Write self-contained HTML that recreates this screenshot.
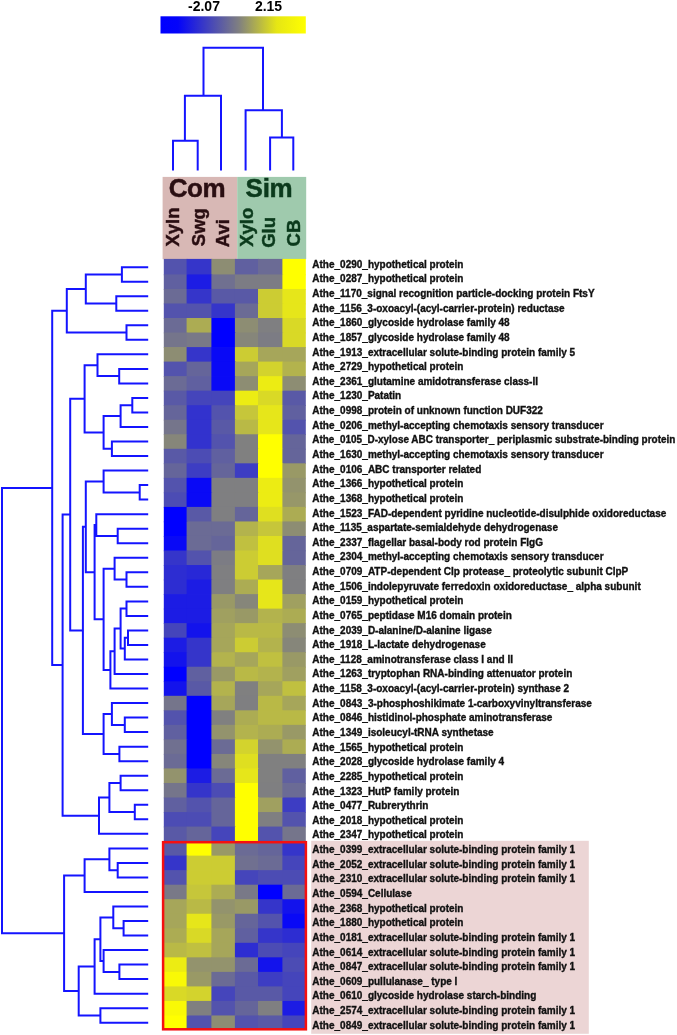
<!DOCTYPE html>
<html><head><meta charset="utf-8"><style>
html,body{margin:0;padding:0;background:#fff;width:677px;height:1035px;overflow:hidden}
svg{position:absolute;left:0;top:0;display:block}
.lb{font-family:"Liberation Sans",Arial,sans-serif;font-weight:bold;font-size:10px;fill:#111;stroke:#111;stroke-width:0.35px}
.hd{font-family:"Liberation Sans",Arial,sans-serif;font-weight:bold}
</style></head><body>
<svg width="677" height="1035" viewBox="0 0 677 1035">
<defs><linearGradient id="cb" x1="0" x2="1" y1="0" y2="0">
<stop offset="0" stop-color="#0000ff"/><stop offset="0.12" stop-color="#0404fa"/><stop offset="0.54" stop-color="#808080"/><stop offset="0.8" stop-color="#e6e614"/><stop offset="1" stop-color="#ffff00"/></linearGradient></defs>
<text class="hd" x="204" y="11.3" text-anchor="middle" font-size="14" fill="#000">-2.07</text>
<text class="hd" x="268.5" y="11.3" text-anchor="middle" font-size="14" fill="#000">2.15</text>
<rect x="160.5" y="16.3" width="145.3" height="17.2" fill="url(#cb)"/>
<path d="M173.0 170.5V140.8H197.7V170.5M221.0 170.5V95.8H184.9V140.8M270.1 170.5V137.5H293.3V170.5M245.6 170.5V110.2H281.9V137.5M203.5 95.8V47.8H263.0V110.2" stroke="#1414ff" stroke-width="2" fill="none"/>
<rect x="162.6" y="176.9" width="74.6" height="82.3" fill="#d8b8b5"/>
<rect x="237.2" y="176.9" width="69" height="82.3" fill="#9fcaad"/>
<text class="hd" x="168.8" y="196.8" font-size="26" letter-spacing="-0.5" fill="#2a0e12" stroke="#2a0e12" stroke-width="0.5">Com</text>
<text class="hd" x="245.6" y="196.8" font-size="26" letter-spacing="-0.3" fill="#0b3a1c" stroke="#0b3a1c" stroke-width="0.5">Sim</text>
<g font-size="18.5" class="hd" stroke-width="0.45">
<text transform="translate(179.2 246.6) rotate(-90)" fill="#2a0e12" stroke="#2a0e12">Xyln</text>
<text transform="translate(204.5 246.2) rotate(-90)" fill="#2a0e12" stroke="#2a0e12">Swg</text>
<text transform="translate(228.8 247.2) rotate(-90)" fill="#2a0e12" stroke="#2a0e12">Avi</text>
<text transform="translate(252.5 246.8) rotate(-90)" fill="#0b3a1c" stroke="#0b3a1c">Xylo</text>
<text transform="translate(274.6 247.8) rotate(-90)" fill="#0b3a1c" stroke="#0b3a1c">Glu</text>
<text transform="translate(299.8 246.4) rotate(-90)" fill="#0b3a1c" stroke="#0b3a1c">CB</text>
</g>
<rect x="163.8" y="258.90" width="23.60" height="16.33" fill="#5353ad"/><rect x="186.6" y="258.90" width="25.60" height="16.33" fill="#3535ca"/><rect x="211.4" y="258.90" width="24.30" height="16.33" fill="#8d8d73"/><rect x="234.9" y="258.90" width="23.90" height="16.33" fill="#6060a0"/><rect x="258.0" y="258.90" width="25.20" height="16.33" fill="#6b6b95"/><rect x="282.4" y="258.90" width="23.40" height="16.33" fill="#ffff00"/><rect x="163.8" y="274.43" width="23.60" height="15.33" fill="#6060a0"/><rect x="186.6" y="274.43" width="25.60" height="15.33" fill="#1c1ce4"/><rect x="211.4" y="274.43" width="24.30" height="15.33" fill="#707090"/><rect x="234.9" y="274.43" width="23.90" height="15.33" fill="#7c7c84"/><rect x="258.0" y="274.43" width="25.20" height="15.33" fill="#7c7c84"/><rect x="282.4" y="274.43" width="23.40" height="15.33" fill="#ffff00"/><rect x="163.8" y="288.96" width="23.60" height="15.33" fill="#6b6b95"/><rect x="186.6" y="288.96" width="25.60" height="15.33" fill="#3535ca"/><rect x="211.4" y="288.96" width="24.30" height="15.33" fill="#5959a6"/><rect x="234.9" y="288.96" width="23.90" height="15.33" fill="#5959a6"/><rect x="258.0" y="288.96" width="25.20" height="15.33" fill="#cccc33"/><rect x="282.4" y="288.96" width="23.40" height="15.33" fill="#e6e61a"/><rect x="163.8" y="303.49" width="23.60" height="15.33" fill="#5353ad"/><rect x="186.6" y="303.49" width="25.60" height="15.33" fill="#5353ad"/><rect x="211.4" y="303.49" width="24.30" height="15.33" fill="#3535ca"/><rect x="234.9" y="303.49" width="23.90" height="15.33" fill="#6b6b95"/><rect x="258.0" y="303.49" width="25.20" height="15.33" fill="#cccc33"/><rect x="282.4" y="303.49" width="23.40" height="15.33" fill="#e6e61a"/><rect x="163.8" y="318.02" width="23.60" height="15.33" fill="#6b6b95"/><rect x="186.6" y="318.02" width="25.60" height="15.33" fill="#acac53"/><rect x="211.4" y="318.02" width="24.30" height="15.33" fill="#0000ff"/><rect x="234.9" y="318.02" width="23.90" height="15.33" fill="#8d8d73"/><rect x="258.0" y="318.02" width="25.20" height="15.33" fill="#7f7f81"/><rect x="282.4" y="318.02" width="23.40" height="15.33" fill="#d9d926"/><rect x="163.8" y="332.55" width="23.60" height="15.33" fill="#75758b"/><rect x="186.6" y="332.55" width="25.60" height="15.33" fill="#797987"/><rect x="211.4" y="332.55" width="24.30" height="15.33" fill="#0000ff"/><rect x="234.9" y="332.55" width="23.90" height="15.33" fill="#86867a"/><rect x="258.0" y="332.55" width="25.20" height="15.33" fill="#7c7c84"/><rect x="282.4" y="332.55" width="23.40" height="15.33" fill="#d9d926"/><rect x="163.8" y="347.08" width="23.60" height="15.33" fill="#8d8d73"/><rect x="186.6" y="347.08" width="25.60" height="15.33" fill="#3535ca"/><rect x="211.4" y="347.08" width="24.30" height="15.33" fill="#0909f6"/><rect x="234.9" y="347.08" width="23.90" height="15.33" fill="#cccc33"/><rect x="258.0" y="347.08" width="25.20" height="15.33" fill="#a6a65a"/><rect x="282.4" y="347.08" width="23.40" height="15.33" fill="#a6a65a"/><rect x="163.8" y="361.61" width="23.60" height="15.33" fill="#5353ad"/><rect x="186.6" y="361.61" width="25.60" height="15.33" fill="#65659a"/><rect x="211.4" y="361.61" width="24.30" height="15.33" fill="#0909f6"/><rect x="234.9" y="361.61" width="23.90" height="15.33" fill="#a6a65a"/><rect x="258.0" y="361.61" width="25.20" height="15.33" fill="#d3d32d"/><rect x="282.4" y="361.61" width="23.40" height="15.33" fill="#b3b34d"/><rect x="163.8" y="376.14" width="23.60" height="15.33" fill="#6b6b95"/><rect x="186.6" y="376.14" width="25.60" height="15.33" fill="#6060a0"/><rect x="211.4" y="376.14" width="24.30" height="15.33" fill="#0909f6"/><rect x="234.9" y="376.14" width="23.90" height="15.33" fill="#8d8d73"/><rect x="258.0" y="376.14" width="25.20" height="15.33" fill="#ecec13"/><rect x="282.4" y="376.14" width="23.40" height="15.33" fill="#8d8d73"/><rect x="163.8" y="390.67" width="23.60" height="15.33" fill="#5959a6"/><rect x="186.6" y="390.67" width="25.60" height="15.33" fill="#4545bb"/><rect x="211.4" y="390.67" width="24.30" height="15.33" fill="#4545bb"/><rect x="234.9" y="390.67" width="23.90" height="15.33" fill="#ecec13"/><rect x="258.0" y="390.67" width="25.20" height="15.33" fill="#d9d926"/><rect x="282.4" y="390.67" width="23.40" height="15.33" fill="#5959a6"/><rect x="163.8" y="405.20" width="23.60" height="15.33" fill="#65659a"/><rect x="186.6" y="405.20" width="25.60" height="15.33" fill="#3232ce"/><rect x="211.4" y="405.20" width="24.30" height="15.33" fill="#5353ad"/><rect x="234.9" y="405.20" width="23.90" height="15.33" fill="#c6c63a"/><rect x="258.0" y="405.20" width="25.20" height="15.33" fill="#e6e61a"/><rect x="282.4" y="405.20" width="23.40" height="15.33" fill="#6060a0"/><rect x="163.8" y="419.73" width="23.60" height="15.33" fill="#75758b"/><rect x="186.6" y="419.73" width="25.60" height="15.33" fill="#3232ce"/><rect x="211.4" y="419.73" width="24.30" height="15.33" fill="#5959a6"/><rect x="234.9" y="419.73" width="23.90" height="15.33" fill="#b9b946"/><rect x="258.0" y="419.73" width="25.20" height="15.33" fill="#e6e61a"/><rect x="282.4" y="419.73" width="23.40" height="15.33" fill="#5353ad"/><rect x="163.8" y="434.26" width="23.60" height="15.33" fill="#86867a"/><rect x="186.6" y="434.26" width="25.60" height="15.33" fill="#3232ce"/><rect x="211.4" y="434.26" width="24.30" height="15.33" fill="#5353ad"/><rect x="234.9" y="434.26" width="23.90" height="15.33" fill="#808080"/><rect x="258.0" y="434.26" width="25.20" height="15.33" fill="#ffff00"/><rect x="282.4" y="434.26" width="23.40" height="15.33" fill="#65659a"/><rect x="163.8" y="448.79" width="23.60" height="15.33" fill="#5959a6"/><rect x="186.6" y="448.79" width="25.60" height="15.33" fill="#4c4cb4"/><rect x="211.4" y="448.79" width="24.30" height="15.33" fill="#6060a0"/><rect x="234.9" y="448.79" width="23.90" height="15.33" fill="#808080"/><rect x="258.0" y="448.79" width="25.20" height="15.33" fill="#ffff00"/><rect x="282.4" y="448.79" width="23.40" height="15.33" fill="#65659a"/><rect x="163.8" y="463.32" width="23.60" height="15.33" fill="#65659a"/><rect x="186.6" y="463.32" width="25.60" height="15.33" fill="#3d3dc3"/><rect x="211.4" y="463.32" width="24.30" height="15.33" fill="#65659a"/><rect x="234.9" y="463.32" width="23.90" height="15.33" fill="#3d3dc3"/><rect x="258.0" y="463.32" width="25.20" height="15.33" fill="#ffff00"/><rect x="282.4" y="463.32" width="23.40" height="15.33" fill="#999966"/><rect x="163.8" y="477.85" width="23.60" height="15.33" fill="#5353ad"/><rect x="186.6" y="477.85" width="25.60" height="15.33" fill="#0909f6"/><rect x="211.4" y="477.85" width="24.30" height="15.33" fill="#7f7f81"/><rect x="234.9" y="477.85" width="23.90" height="15.33" fill="#7f7f81"/><rect x="258.0" y="477.85" width="25.20" height="15.33" fill="#ecec13"/><rect x="282.4" y="477.85" width="23.40" height="15.33" fill="#93936d"/><rect x="163.8" y="492.38" width="23.60" height="15.33" fill="#4c4cb4"/><rect x="186.6" y="492.38" width="25.60" height="15.33" fill="#0909f6"/><rect x="211.4" y="492.38" width="24.30" height="15.33" fill="#7f7f81"/><rect x="234.9" y="492.38" width="23.90" height="15.33" fill="#7f7f81"/><rect x="258.0" y="492.38" width="25.20" height="15.33" fill="#ecec13"/><rect x="282.4" y="492.38" width="23.40" height="15.33" fill="#979769"/><rect x="163.8" y="506.91" width="23.60" height="15.33" fill="#0000ff"/><rect x="186.6" y="506.91" width="25.60" height="15.33" fill="#5959a6"/><rect x="211.4" y="506.91" width="24.30" height="15.33" fill="#7f7f81"/><rect x="234.9" y="506.91" width="23.90" height="15.33" fill="#65659a"/><rect x="258.0" y="506.91" width="25.20" height="15.33" fill="#dfdf20"/><rect x="282.4" y="506.91" width="23.40" height="15.33" fill="#acac53"/><rect x="163.8" y="521.44" width="23.60" height="15.33" fill="#0000ff"/><rect x="186.6" y="521.44" width="25.60" height="15.33" fill="#6b6b95"/><rect x="211.4" y="521.44" width="24.30" height="15.33" fill="#6b6b95"/><rect x="234.9" y="521.44" width="23.90" height="15.33" fill="#b3b34d"/><rect x="258.0" y="521.44" width="25.20" height="15.33" fill="#c6c63a"/><rect x="282.4" y="521.44" width="23.40" height="15.33" fill="#8d8d73"/><rect x="163.8" y="535.97" width="23.60" height="15.33" fill="#0909f6"/><rect x="186.6" y="535.97" width="25.60" height="15.33" fill="#6b6b95"/><rect x="211.4" y="535.97" width="24.30" height="15.33" fill="#65659a"/><rect x="234.9" y="535.97" width="23.90" height="15.33" fill="#c0c040"/><rect x="258.0" y="535.97" width="25.20" height="15.33" fill="#dfdf20"/><rect x="282.4" y="535.97" width="23.40" height="15.33" fill="#65659a"/><rect x="163.8" y="550.50" width="23.60" height="15.33" fill="#3535ca"/><rect x="186.6" y="550.50" width="25.60" height="15.33" fill="#5353ad"/><rect x="211.4" y="550.50" width="24.30" height="15.33" fill="#7c7c84"/><rect x="234.9" y="550.50" width="23.90" height="15.33" fill="#cccc33"/><rect x="258.0" y="550.50" width="25.20" height="15.33" fill="#dfdf20"/><rect x="282.4" y="550.50" width="23.40" height="15.33" fill="#65659a"/><rect x="163.8" y="565.03" width="23.60" height="15.33" fill="#2d2dd2"/><rect x="186.6" y="565.03" width="25.60" height="15.33" fill="#2828d7"/><rect x="211.4" y="565.03" width="24.30" height="15.33" fill="#7f7f81"/><rect x="234.9" y="565.03" width="23.90" height="15.33" fill="#cccc33"/><rect x="258.0" y="565.03" width="25.20" height="15.33" fill="#a6a65a"/><rect x="282.4" y="565.03" width="23.40" height="15.33" fill="#7f7f81"/><rect x="163.8" y="579.56" width="23.60" height="15.33" fill="#2d2dd2"/><rect x="186.6" y="579.56" width="25.60" height="15.33" fill="#1c1ce4"/><rect x="211.4" y="579.56" width="24.30" height="15.33" fill="#7f7f81"/><rect x="234.9" y="579.56" width="23.90" height="15.33" fill="#acac53"/><rect x="258.0" y="579.56" width="25.20" height="15.33" fill="#e6e61a"/><rect x="282.4" y="579.56" width="23.40" height="15.33" fill="#7f7f81"/><rect x="163.8" y="594.09" width="23.60" height="15.33" fill="#1c1ce4"/><rect x="186.6" y="594.09" width="25.60" height="15.33" fill="#1c1ce4"/><rect x="211.4" y="594.09" width="24.30" height="15.33" fill="#999966"/><rect x="234.9" y="594.09" width="23.90" height="15.33" fill="#86867a"/><rect x="258.0" y="594.09" width="25.20" height="15.33" fill="#e6e61a"/><rect x="282.4" y="594.09" width="23.40" height="15.33" fill="#a0a060"/><rect x="163.8" y="608.62" width="23.60" height="15.33" fill="#1c1ce4"/><rect x="186.6" y="608.62" width="25.60" height="15.33" fill="#1c1ce4"/><rect x="211.4" y="608.62" width="24.30" height="15.33" fill="#a0a060"/><rect x="234.9" y="608.62" width="23.90" height="15.33" fill="#999966"/><rect x="258.0" y="608.62" width="25.20" height="15.33" fill="#b3b34d"/><rect x="282.4" y="608.62" width="23.40" height="15.33" fill="#acac53"/><rect x="163.8" y="623.15" width="23.60" height="15.33" fill="#4545bb"/><rect x="186.6" y="623.15" width="25.60" height="15.33" fill="#1313ec"/><rect x="211.4" y="623.15" width="24.30" height="15.33" fill="#a6a65a"/><rect x="234.9" y="623.15" width="23.90" height="15.33" fill="#b9b946"/><rect x="258.0" y="623.15" width="25.20" height="15.33" fill="#b9b946"/><rect x="282.4" y="623.15" width="23.40" height="15.33" fill="#8d8d73"/><rect x="163.8" y="637.68" width="23.60" height="15.33" fill="#1c1ce4"/><rect x="186.6" y="637.68" width="25.60" height="15.33" fill="#3535ca"/><rect x="211.4" y="637.68" width="24.30" height="15.33" fill="#a6a65a"/><rect x="234.9" y="637.68" width="23.90" height="15.33" fill="#cccc33"/><rect x="258.0" y="637.68" width="25.20" height="15.33" fill="#b3b34d"/><rect x="282.4" y="637.68" width="23.40" height="15.33" fill="#86867a"/><rect x="163.8" y="652.21" width="23.60" height="15.33" fill="#1313ec"/><rect x="186.6" y="652.21" width="25.60" height="15.33" fill="#3535ca"/><rect x="211.4" y="652.21" width="24.30" height="15.33" fill="#b3b34d"/><rect x="234.9" y="652.21" width="23.90" height="15.33" fill="#a6a65a"/><rect x="258.0" y="652.21" width="25.20" height="15.33" fill="#c0c040"/><rect x="282.4" y="652.21" width="23.40" height="15.33" fill="#999966"/><rect x="163.8" y="666.74" width="23.60" height="15.33" fill="#0000ff"/><rect x="186.6" y="666.74" width="25.60" height="15.33" fill="#6060a0"/><rect x="211.4" y="666.74" width="24.30" height="15.33" fill="#999966"/><rect x="234.9" y="666.74" width="23.90" height="15.33" fill="#b9b946"/><rect x="258.0" y="666.74" width="25.20" height="15.33" fill="#b3b34d"/><rect x="282.4" y="666.74" width="23.40" height="15.33" fill="#a0a060"/><rect x="163.8" y="681.27" width="23.60" height="15.33" fill="#1313ec"/><rect x="186.6" y="681.27" width="25.60" height="15.33" fill="#5959a6"/><rect x="211.4" y="681.27" width="24.30" height="15.33" fill="#b3b34d"/><rect x="234.9" y="681.27" width="23.90" height="15.33" fill="#808080"/><rect x="258.0" y="681.27" width="25.20" height="15.33" fill="#a6a65a"/><rect x="282.4" y="681.27" width="23.40" height="15.33" fill="#c0c040"/><rect x="163.8" y="695.80" width="23.60" height="15.33" fill="#75758b"/><rect x="186.6" y="695.80" width="25.60" height="15.33" fill="#0000ff"/><rect x="211.4" y="695.80" width="24.30" height="15.33" fill="#a6a65a"/><rect x="234.9" y="695.80" width="23.90" height="15.33" fill="#7f7f81"/><rect x="258.0" y="695.80" width="25.20" height="15.33" fill="#b9b946"/><rect x="282.4" y="695.80" width="23.40" height="15.33" fill="#a6a65a"/><rect x="163.8" y="710.33" width="23.60" height="15.33" fill="#5353ad"/><rect x="186.6" y="710.33" width="25.60" height="15.33" fill="#0000ff"/><rect x="211.4" y="710.33" width="24.30" height="15.33" fill="#808080"/><rect x="234.9" y="710.33" width="23.90" height="15.33" fill="#acac53"/><rect x="258.0" y="710.33" width="25.20" height="15.33" fill="#b9b946"/><rect x="282.4" y="710.33" width="23.40" height="15.33" fill="#b9b946"/><rect x="163.8" y="724.86" width="23.60" height="15.33" fill="#6060a0"/><rect x="186.6" y="724.86" width="25.60" height="15.33" fill="#0000ff"/><rect x="211.4" y="724.86" width="24.30" height="15.33" fill="#93936d"/><rect x="234.9" y="724.86" width="23.90" height="15.33" fill="#b3b34d"/><rect x="258.0" y="724.86" width="25.20" height="15.33" fill="#acac53"/><rect x="282.4" y="724.86" width="23.40" height="15.33" fill="#999966"/><rect x="163.8" y="739.39" width="23.60" height="15.33" fill="#707090"/><rect x="186.6" y="739.39" width="25.60" height="15.33" fill="#0000ff"/><rect x="211.4" y="739.39" width="24.30" height="15.33" fill="#6b6b95"/><rect x="234.9" y="739.39" width="23.90" height="15.33" fill="#d3d32d"/><rect x="258.0" y="739.39" width="25.20" height="15.33" fill="#93936d"/><rect x="282.4" y="739.39" width="23.40" height="15.33" fill="#acac53"/><rect x="163.8" y="753.92" width="23.60" height="15.33" fill="#6b6b95"/><rect x="186.6" y="753.92" width="25.60" height="15.33" fill="#0000ff"/><rect x="211.4" y="753.92" width="24.30" height="15.33" fill="#86867a"/><rect x="234.9" y="753.92" width="23.90" height="15.33" fill="#dfdf20"/><rect x="258.0" y="753.92" width="25.20" height="15.33" fill="#808080"/><rect x="282.4" y="753.92" width="23.40" height="15.33" fill="#808080"/><rect x="163.8" y="768.45" width="23.60" height="15.33" fill="#93936d"/><rect x="186.6" y="768.45" width="25.60" height="15.33" fill="#1c1ce4"/><rect x="211.4" y="768.45" width="24.30" height="15.33" fill="#6b6b95"/><rect x="234.9" y="768.45" width="23.90" height="15.33" fill="#e6e61a"/><rect x="258.0" y="768.45" width="25.20" height="15.33" fill="#808080"/><rect x="282.4" y="768.45" width="23.40" height="15.33" fill="#6060a0"/><rect x="163.8" y="782.98" width="23.60" height="15.33" fill="#75758b"/><rect x="186.6" y="782.98" width="25.60" height="15.33" fill="#3535ca"/><rect x="211.4" y="782.98" width="24.30" height="15.33" fill="#4c4cb4"/><rect x="234.9" y="782.98" width="23.90" height="15.33" fill="#ffff00"/><rect x="258.0" y="782.98" width="25.20" height="15.33" fill="#7f7f81"/><rect x="282.4" y="782.98" width="23.40" height="15.33" fill="#6b6b95"/><rect x="163.8" y="797.51" width="23.60" height="15.33" fill="#6060a0"/><rect x="186.6" y="797.51" width="25.60" height="15.33" fill="#5353ad"/><rect x="211.4" y="797.51" width="24.30" height="15.33" fill="#65659a"/><rect x="234.9" y="797.51" width="23.90" height="15.33" fill="#ffff00"/><rect x="258.0" y="797.51" width="25.20" height="15.33" fill="#a0a060"/><rect x="282.4" y="797.51" width="23.40" height="15.33" fill="#3d3dc3"/><rect x="163.8" y="812.04" width="23.60" height="15.33" fill="#4c4cb4"/><rect x="186.6" y="812.04" width="25.60" height="15.33" fill="#4c4cb4"/><rect x="211.4" y="812.04" width="24.30" height="15.33" fill="#65659a"/><rect x="234.9" y="812.04" width="23.90" height="15.33" fill="#ffff00"/><rect x="258.0" y="812.04" width="25.20" height="15.33" fill="#7f7f81"/><rect x="282.4" y="812.04" width="23.40" height="15.33" fill="#5353ad"/><rect x="163.8" y="826.57" width="23.60" height="15.33" fill="#5959a6"/><rect x="186.6" y="826.57" width="25.60" height="15.33" fill="#65659a"/><rect x="211.4" y="826.57" width="24.30" height="15.33" fill="#4545bb"/><rect x="234.9" y="826.57" width="23.90" height="15.33" fill="#ffff00"/><rect x="258.0" y="826.57" width="25.20" height="15.33" fill="#5353ad"/><rect x="282.4" y="826.57" width="23.40" height="15.33" fill="#75758b"/><rect x="163.8" y="841.10" width="23.60" height="15.33" fill="#5959a6"/><rect x="186.6" y="841.10" width="25.60" height="15.33" fill="#ffff00"/><rect x="211.4" y="841.10" width="24.30" height="15.33" fill="#999966"/><rect x="234.9" y="841.10" width="23.90" height="15.33" fill="#6b6b95"/><rect x="258.0" y="841.10" width="25.20" height="15.33" fill="#65659a"/><rect x="282.4" y="841.10" width="23.40" height="15.33" fill="#3535ca"/><rect x="163.8" y="855.63" width="23.60" height="15.33" fill="#3535ca"/><rect x="186.6" y="855.63" width="25.60" height="15.33" fill="#cccc33"/><rect x="211.4" y="855.63" width="24.30" height="15.33" fill="#cccc33"/><rect x="234.9" y="855.63" width="23.90" height="15.33" fill="#707090"/><rect x="258.0" y="855.63" width="25.20" height="15.33" fill="#6b6b95"/><rect x="282.4" y="855.63" width="23.40" height="15.33" fill="#4545bb"/><rect x="163.8" y="870.16" width="23.60" height="15.33" fill="#5353ad"/><rect x="186.6" y="870.16" width="25.60" height="15.33" fill="#cccc33"/><rect x="211.4" y="870.16" width="24.30" height="15.33" fill="#cccc33"/><rect x="234.9" y="870.16" width="23.90" height="15.33" fill="#4545bb"/><rect x="258.0" y="870.16" width="25.20" height="15.33" fill="#4c4cb4"/><rect x="282.4" y="870.16" width="23.40" height="15.33" fill="#4c4cb4"/><rect x="163.8" y="884.69" width="23.60" height="15.33" fill="#797987"/><rect x="186.6" y="884.69" width="25.60" height="15.33" fill="#c6c63a"/><rect x="211.4" y="884.69" width="24.30" height="15.33" fill="#acac53"/><rect x="234.9" y="884.69" width="23.90" height="15.33" fill="#797987"/><rect x="258.0" y="884.69" width="25.20" height="15.33" fill="#0000ff"/><rect x="282.4" y="884.69" width="23.40" height="15.33" fill="#6b6b95"/><rect x="163.8" y="899.22" width="23.60" height="15.33" fill="#a6a65a"/><rect x="186.6" y="899.22" width="25.60" height="15.33" fill="#b9b946"/><rect x="211.4" y="899.22" width="24.30" height="15.33" fill="#93936d"/><rect x="234.9" y="899.22" width="23.90" height="15.33" fill="#999966"/><rect x="258.0" y="899.22" width="25.20" height="15.33" fill="#3535ca"/><rect x="282.4" y="899.22" width="23.40" height="15.33" fill="#1313ec"/><rect x="163.8" y="913.75" width="23.60" height="15.33" fill="#a6a65a"/><rect x="186.6" y="913.75" width="25.60" height="15.33" fill="#e6e61a"/><rect x="211.4" y="913.75" width="24.30" height="15.33" fill="#999966"/><rect x="234.9" y="913.75" width="23.90" height="15.33" fill="#65659a"/><rect x="258.0" y="913.75" width="25.20" height="15.33" fill="#5353ad"/><rect x="282.4" y="913.75" width="23.40" height="15.33" fill="#0909f6"/><rect x="163.8" y="928.28" width="23.60" height="15.33" fill="#acac53"/><rect x="186.6" y="928.28" width="25.60" height="15.33" fill="#d9d926"/><rect x="211.4" y="928.28" width="24.30" height="15.33" fill="#a6a65a"/><rect x="234.9" y="928.28" width="23.90" height="15.33" fill="#6060a0"/><rect x="258.0" y="928.28" width="25.20" height="15.33" fill="#3535ca"/><rect x="282.4" y="928.28" width="23.40" height="15.33" fill="#2d2dd2"/><rect x="163.8" y="942.81" width="23.60" height="15.33" fill="#b9b946"/><rect x="186.6" y="942.81" width="25.60" height="15.33" fill="#c0c040"/><rect x="211.4" y="942.81" width="24.30" height="15.33" fill="#a6a65a"/><rect x="234.9" y="942.81" width="23.90" height="15.33" fill="#2d2dd2"/><rect x="258.0" y="942.81" width="25.20" height="15.33" fill="#4c4cb4"/><rect x="282.4" y="942.81" width="23.40" height="15.33" fill="#4545bb"/><rect x="163.8" y="957.34" width="23.60" height="15.33" fill="#ecec13"/><rect x="186.6" y="957.34" width="25.60" height="15.33" fill="#93936d"/><rect x="211.4" y="957.34" width="24.30" height="15.33" fill="#93936d"/><rect x="234.9" y="957.34" width="23.90" height="15.33" fill="#6b6b95"/><rect x="258.0" y="957.34" width="25.20" height="15.33" fill="#1313ec"/><rect x="282.4" y="957.34" width="23.40" height="15.33" fill="#4c4cb4"/><rect x="163.8" y="971.87" width="23.60" height="15.33" fill="#f9f906"/><rect x="186.6" y="971.87" width="25.60" height="15.33" fill="#999966"/><rect x="211.4" y="971.87" width="24.30" height="15.33" fill="#6b6b95"/><rect x="234.9" y="971.87" width="23.90" height="15.33" fill="#5959a6"/><rect x="258.0" y="971.87" width="25.20" height="15.33" fill="#3d3dc3"/><rect x="282.4" y="971.87" width="23.40" height="15.33" fill="#4545bb"/><rect x="163.8" y="986.40" width="23.60" height="15.33" fill="#d9d926"/><rect x="186.6" y="986.40" width="25.60" height="15.33" fill="#d3d32d"/><rect x="211.4" y="986.40" width="24.30" height="15.33" fill="#4545bb"/><rect x="234.9" y="986.40" width="23.90" height="15.33" fill="#5959a6"/><rect x="258.0" y="986.40" width="25.20" height="15.33" fill="#5959a6"/><rect x="282.4" y="986.40" width="23.40" height="15.33" fill="#4545bb"/><rect x="163.8" y="1000.93" width="23.60" height="15.33" fill="#f9f906"/><rect x="186.6" y="1000.93" width="25.60" height="15.33" fill="#808080"/><rect x="211.4" y="1000.93" width="24.30" height="15.33" fill="#5353ad"/><rect x="234.9" y="1000.93" width="23.90" height="15.33" fill="#65659a"/><rect x="258.0" y="1000.93" width="25.20" height="15.33" fill="#7f7f81"/><rect x="282.4" y="1000.93" width="23.40" height="15.33" fill="#1c1ce4"/><rect x="163.8" y="1015.46" width="23.60" height="14.53" fill="#ffff00"/><rect x="186.6" y="1015.46" width="25.60" height="14.53" fill="#5353ad"/><rect x="211.4" y="1015.46" width="24.30" height="14.53" fill="#8d8d73"/><rect x="234.9" y="1015.46" width="23.90" height="14.53" fill="#5353ad"/><rect x="258.0" y="1015.46" width="25.20" height="14.53" fill="#5959a6"/><rect x="282.4" y="1015.46" width="23.40" height="14.53" fill="#4545bb"/>
<rect x="311.2" y="840.8" width="277.6" height="193" fill="#ecd5d5"/>
<rect x="163.1" y="842.2" width="142.8" height="187.1" fill="none" stroke="#f51010" stroke-width="2.5"/>
<path d="M2.0 487.9V933.3M2.0 487.9H52.2M2.0 933.3H64.1M52.2 310.8V665.1M52.2 310.8H66.8M52.2 665.1H62.6M66.8 289.0V332.5M66.8 289.0H85.8M66.8 332.5H126.5M85.8 274.4V303.5M85.8 274.4H121.9M85.8 303.5H116.3M121.9 267.2V281.7M121.9 267.2H147.2M121.9 281.7H147.2M116.3 296.2V310.8M116.3 296.2H147.2M116.3 310.8H147.2M126.5 325.3V339.8M126.5 325.3H147.2M126.5 339.8H147.2M62.6 514.6V815.7M62.6 514.6H70.2M62.6 815.7H99.0M70.2 398.8V630.4M70.2 398.8H84.6M70.2 630.4H82.9M84.6 365.2V432.4M84.6 365.2H97.5M84.6 432.4H103.6M97.5 354.3V376.1M97.5 354.3H147.2M97.5 376.1H119.2M119.2 368.9V383.4M119.2 368.9H147.2M119.2 383.4H147.2M103.6 416.1V448.8M103.6 416.1H120.6M103.6 448.8H111.9M120.6 405.2V427.0M120.6 405.2H132.3M120.6 427.0H147.2M132.3 397.9V412.5M132.3 397.9H147.2M132.3 412.5H147.2M111.9 441.5V456.1M111.9 441.5H147.2M111.9 456.1H147.2M82.9 526.8V733.9M82.9 526.8H85.8M82.9 733.9H103.6M85.8 481.5V572.2M85.8 481.5H103.6M85.8 572.2H94.6M103.6 470.6V492.4M103.6 470.6H147.2M103.6 492.4H139.7M139.7 485.1V499.6M139.7 485.1H147.2M139.7 499.6H147.2M94.6 525.1V619.3M94.6 525.1H96.3M94.6 619.3H103.6M96.3 514.2V536.0M96.3 514.2H147.2M96.3 536.0H117.7M117.7 528.7V543.2M117.7 528.7H147.2M117.7 543.2H147.2M103.6 568.7V669.9M103.6 568.7H114.6M103.6 669.9H110.4M114.6 557.8V579.6M114.6 557.8H147.2M114.6 579.6H126.5M126.5 572.3V586.8M126.5 572.3H147.2M126.5 586.8H147.2M110.4 651.3V688.5M110.4 651.3H114.6M110.4 688.5H147.2M114.6 628.6V674.0M114.6 628.6H120.6M114.6 674.0H147.2M120.6 608.6V648.6M120.6 608.6H126.5M120.6 648.6H124.8M126.5 601.4V615.9M126.5 601.4H147.2M126.5 615.9H147.2M124.8 637.7V659.5M124.8 637.7H128.0M124.8 659.5H147.2M128.0 630.4V644.9M128.0 630.4H147.2M128.0 644.9H147.2M103.6 714.0V753.9M103.6 714.0H111.9M103.6 753.9H119.4M111.9 703.1V724.9M111.9 703.1H147.2M111.9 724.9H124.8M124.8 717.6V732.1M124.8 717.6H147.2M124.8 732.1H147.2M119.4 746.7V761.2M119.4 746.7H147.2M119.4 761.2H147.2M99.0 797.5V833.8M99.0 797.5H109.4M99.0 833.8H147.2M109.4 783.0V812.0M109.4 783.0H120.6M109.4 812.0H134.8M120.6 775.7V790.2M120.6 775.7H147.2M120.6 790.2H147.2M134.8 804.8V819.3M134.8 804.8H147.2M134.8 819.3H147.2M64.1 875.6V990.9M64.1 875.6H84.6M64.1 990.9H78.7M84.6 859.3V892.0M84.6 859.3H109.4M84.6 892.0H147.2M109.4 848.4V870.2M109.4 848.4H147.2M109.4 870.2H117.7M117.7 862.9V877.4M117.7 862.9H147.2M117.7 877.4H147.2M78.7 966.4V1015.5M78.7 966.4H94.6M78.7 1015.5H100.4M94.6 939.2V993.7M94.6 939.2H100.4M94.6 993.7H147.2M100.4 917.4V961.0M100.4 917.4H113.3M100.4 961.0H103.6M113.3 906.5V928.3M113.3 906.5H147.2M113.3 928.3H123.6M123.6 921.0V935.5M123.6 921.0H147.2M123.6 935.5H147.2M103.6 950.1V971.9M103.6 950.1H147.2M103.6 971.9H119.4M119.4 964.6V979.1M119.4 964.6H147.2M119.4 979.1H147.2M100.4 1008.2V1022.7M100.4 1008.2H147.2M100.4 1022.7H147.2" stroke="#1414ff" stroke-width="2" fill="none" stroke-linecap="square"/>
<g class="lb">
<text x="312.3" y="267.70">Athe_0290_hypothetical protein</text>
<text x="312.3" y="282.33">Athe_0287_hypothetical protein</text>
<text x="312.3" y="296.97">Athe_1170_signal recognition particle-docking protein FtsY</text>
<text x="312.3" y="311.61">Athe_1156_3-oxoacyl-(acyl-carrier-protein) reductase</text>
<text x="312.3" y="326.24">Athe_1860_glycoside hydrolase family 48</text>
<text x="312.3" y="340.88">Athe_1857_glycoside hydrolase family 48</text>
<text x="312.3" y="355.51">Athe_1913_extracellular solute-binding protein family 5</text>
<text x="312.3" y="370.14">Athe_2729_hypothetical protein</text>
<text x="312.3" y="384.78">Athe_2361_glutamine amidotransferase class-II</text>
<text x="312.3" y="399.41">Athe_1230_Patatin</text>
<text x="312.3" y="414.05">Athe_0998_protein of unknown function DUF322</text>
<text x="312.3" y="428.68">Athe_0206_methyl-accepting chemotaxis sensory transducer</text>
<text x="312.3" y="443.32" textLength="363" lengthAdjust="spacingAndGlyphs">Athe_0105_D-xylose ABC transporter_ periplasmic substrate-binding protein</text>
<text x="312.3" y="457.95">Athe_1630_methyl-accepting chemotaxis sensory transducer</text>
<text x="312.3" y="472.59">Athe_0106_ABC transporter related</text>
<text x="312.3" y="487.23">Athe_1366_hypothetical protein</text>
<text x="312.3" y="501.86">Athe_1368_hypothetical protein</text>
<text x="312.3" y="516.50">Athe_1523_FAD-dependent pyridine nucleotide-disulphide oxidoreductase</text>
<text x="312.3" y="531.13">Athe_1135_aspartate-semialdehyde dehydrogenase</text>
<text x="312.3" y="545.76">Athe_2337_flagellar basal-body rod protein FlgG</text>
<text x="312.3" y="560.40">Athe_2304_methyl-accepting chemotaxis sensory transducer</text>
<text x="312.3" y="575.03">Athe_0709_ATP-dependent Clp protease_ proteolytic subunit ClpP</text>
<text x="312.3" y="589.67">Athe_1506_indolepyruvate ferredoxin oxidoreductase_ alpha subunit</text>
<text x="312.3" y="604.31">Athe_0159_hypothetical protein</text>
<text x="312.3" y="618.94">Athe_0765_peptidase M16 domain protein</text>
<text x="312.3" y="633.58">Athe_2039_D-alanine/D-alanine ligase</text>
<text x="312.3" y="648.21">Athe_1918_L-lactate dehydrogenase</text>
<text x="312.3" y="662.85">Athe_1128_aminotransferase class I and II</text>
<text x="312.3" y="677.48">Athe_1263_tryptophan RNA-binding attenuator protein</text>
<text x="312.3" y="692.12">Athe_1158_3-oxoacyl-(acyl-carrier-protein) synthase 2</text>
<text x="312.3" y="706.75">Athe_0843_3-phosphoshikimate 1-carboxyvinyltransferase</text>
<text x="312.3" y="721.38">Athe_0846_histidinol-phosphate aminotransferase</text>
<text x="312.3" y="736.02">Athe_1349_isoleucyl-tRNA synthetase</text>
<text x="312.3" y="750.65">Athe_1565_hypothetical protein</text>
<text x="312.3" y="765.29">Athe_2028_glycoside hydrolase family 4</text>
<text x="312.3" y="779.92">Athe_2285_hypothetical protein</text>
<text x="312.3" y="794.56">Athe_1323_HutP family protein</text>
<text x="312.3" y="809.19">Athe_0477_Rubrerythrin</text>
<text x="312.3" y="823.83">Athe_2018_hypothetical protein</text>
<text x="312.3" y="838.46">Athe_2347_hypothetical protein</text>
<text x="312.3" y="853.10">Athe_0399_extracellular solute-binding protein family 1</text>
<text x="312.3" y="867.73">Athe_2052_extracellular solute-binding protein family 1</text>
<text x="312.3" y="882.37">Athe_2310_extracellular solute-binding protein family 1</text>
<text x="312.3" y="897.00">Athe_0594_Cellulase</text>
<text x="312.3" y="911.64">Athe_2368_hypothetical protein</text>
<text x="312.3" y="926.28">Athe_1880_hypothetical protein</text>
<text x="312.3" y="940.91">Athe_0181_extracellular solute-binding protein family 1</text>
<text x="312.3" y="955.55">Athe_0614_extracellular solute-binding protein family 1</text>
<text x="312.3" y="970.18">Athe_0847_extracellular solute-binding protein family 1</text>
<text x="312.3" y="984.82">Athe_0609_pullulanase_ type I</text>
<text x="312.3" y="999.45">Athe_0610_glycoside hydrolase starch-binding</text>
<text x="312.3" y="1014.09">Athe_2574_extracellular solute-binding protein family 1</text>
<text x="312.3" y="1028.72">Athe_0849_extracellular solute-binding protein family 1</text>
</g>
</svg>
</body></html>
